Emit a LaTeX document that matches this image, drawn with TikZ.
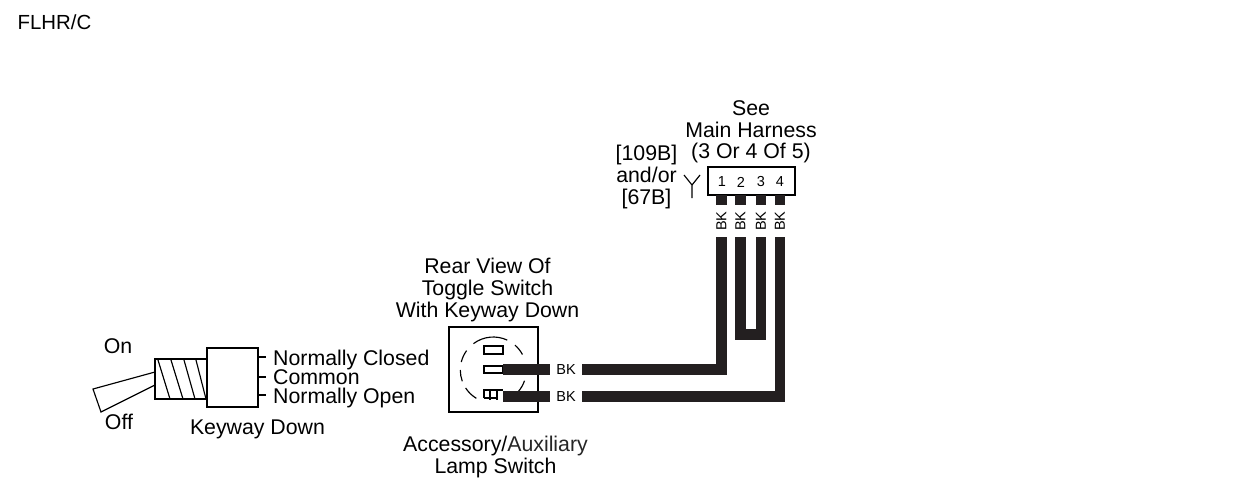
\documentclass[tikz,border=0pt]{standalone}
\usepackage{fontspec}
\setmainfont{Liberation Sans}
\usepackage{tikz}
\usetikzlibrary{positioning}

\definecolor{wireblack}{HTML}{231F20}

\begin{document}
\begin{tikzpicture}[x=1pt,y=-1pt,
        lab/.style={inner sep=0pt,align=center,font=\fontsize{21.3}{21.6}\selectfont},
        tiny/.style={inner xsep=6.5pt,inner ysep=0pt,font=\fontsize{14.5}{15}\selectfont},
        part/.style={draw,line width=1.3pt,inner sep=0pt,minimum width=0pt},
        thin part/.style={draw=black,line width=1.15pt},
        wire/.style={draw=wireblack,line width=10.5pt}]

  \useasboundingbox (0,0) rectangle (1260,483);

  \node[lab,font=\fontsize{20.4}{21}\selectfont] (title) at (54.5,22) {FLHR/C};

  % toggle switch
  \draw[thin part] (155,359) rectangle (207,399);
  \node[part,minimum width=51pt,minimum height=59pt] (body) at (232.5,377.5) {};
  \draw[thin part] (155,372) -- (93,389) -- (101,412) -- (155,385);
  \foreach \a/\b in {158/170,171/183,184/195,196/206}
    \draw[thin part] (\a,360) -- (\b,399);

  \node[lab,anchor=base west] (closed) at (273,365) {Normally Closed};
  \node[lab,anchor=base west] (common) at (273,384) {Common};
  \node[lab,anchor=base west] (open) at (273,403) {Normally Open};
  \foreach \y in {357,377,395}
    \draw[thin part] (body.east |- 0,\y) -- +(7,0);

  \node[lab] (on) at (118,346) {On};
  \node[lab] (off) at (119,422) {Off};
  \node[lab] (keyway) at (257.5,429) {Keyway Down};

  % rear view
  \node[lab] (rear) at (487.5,290) {Rear View Of\\Toggle Switch\\With Keyway Down};
  \node[part,minimum width=89pt,minimum height=85pt] (square) at (493.5,369.5) {};
  \coordinate (ctr) at (493.3,370);
  \foreach \s/\e in {-127/-65,-49/-28,-10/-5,19/41,121/147,160/180,194/216}
    \draw[thin part] ([shift={(\s:33)}]ctr) arc (\s:\e:33);
  \draw[thin part,fill=white] (484,346) rectangle (503,354);
  \draw[thin part,fill=white] (484,366) rectangle (503,373);
  \draw[thin part] (484,398) -- (484,390) -- (503,390)
        (484,398) -- (497,398)
        (490,390) -- (490,400) (497,390) -- (497,400);

  \coordinate (pinA) at (503,369.5);
  \coordinate (pinB) at (503,396.5);
  \node[tiny] (bkA) at (566,369.5) {BK};
  \node[tiny] (bkB) at (566,396.5) {BK};
  \draw[wire] (pinA) -- (bkA.west);
  \draw[wire] (pinB) -- (bkB.west);

  \node[lab] (switch) at (495.5,457) {Accessory/{\color{black!85}Auxiliary}\\Lamp Switch};

  % connector
  \node[part,minimum width=87pt,minimum height=28pt] (conn) at (751.5,181) {};
  \node[tiny] (p1) at (722,182) {1};
  \node[tiny] (p2) at (741,182) {2};
  \node[tiny] (p3) at (761,182) {3};
  \node[tiny] (p4) at (780,182) {4};
  \node[lab] (see) at (751,132) {See\\Main Harness\\(3 Or 4 Of 5)};
  \node[lab] (ref) at (646.5,177) {[109B]\\and/or\\{}[67B]};
  \coordinate (yfoot) at (692,198);
  \coordinate (yfork) at (692,185);
  \draw[thin part] (yfoot) -- (yfork) -- (684,175) (yfork) -- (700,175);

  \foreach \n/\x in {a/721.5,b/740.5,c/761,d/780} {
    \node[tiny,rotate=90] (bk\n) at (\x,221) {BK};
    \draw[wire] (\x,195) -- (bk\n.east);
  }
  \coordinate (bendA) at (721.5,369.5);
  \coordinate (bendB) at (780,396.5);
  \coordinate (ul) at (740.5,334.5);
  \coordinate (ur) at (761,334.5);
  \draw[wire] (bkA.east) -- (bendA) -- (bka.west);
  \draw[wire] (bkB.east) -- (bendB) -- (bkd.west);
  \draw[wire] (bkb.west) -- (ul) -- (ur) -- (bkc.west);

\end{tikzpicture}
\end{document}
